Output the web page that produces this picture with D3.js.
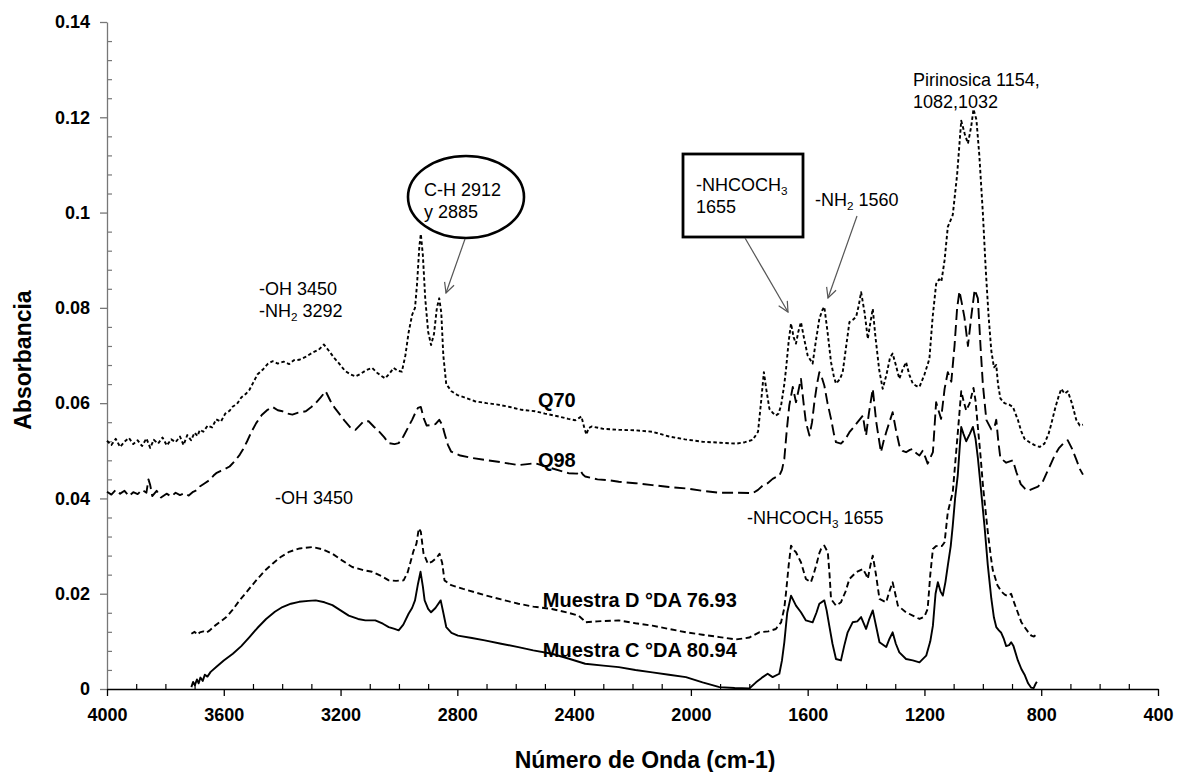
<!DOCTYPE html>
<html>
<head>
<meta charset="utf-8">
<script src="https://cdn.jsdelivr.net/npm/d3@7"></script>
<style>
  body { margin: 0; background: #fff; }
  svg { display: block; }
  text { font-family: "Liberation Sans", Arial, sans-serif; fill: #000; }
</style>
</head>
<body>
<svg id="chart" width="1179" height="772"></svg>
<script>
// ---- FTIR spectra: [wavenumber (cm-1), absorbance] ----
const q70 = [
  [4000,0.0521],[3985,0.0512],[3970,0.0525],[3955,0.0508],[3940,0.0519],[3925,0.0527],[3910,0.0514],[3895,0.0522],
  [3880,0.0510],[3865,0.0526],[3852,0.0506],[3840,0.0523],[3825,0.0515],[3810,0.0528],[3795,0.0511],[3780,0.0524],
  [3765,0.0518],[3750,0.0530],[3738,0.0512],[3725,0.0533],[3712,0.0522],[3700,0.0538],[3690,0.0531],[3682,0.0544],
  [3670,0.0540],[3655,0.0553],[3640,0.0549],[3626,0.0566],[3610,0.0561],[3595,0.0578],[3580,0.0584],[3569,0.0593],
  [3555,0.0598],[3540,0.0612],[3525,0.0619],[3512,0.0628],[3500,0.0642],[3485,0.0660],[3467,0.0670],[3450,0.0682],
  [3433,0.0688],[3415,0.0683],[3395,0.0687],[3376,0.0682],[3360,0.0690],[3342,0.0691],[3320,0.0697],[3296,0.0706],
  [3275,0.0712],[3257,0.0723],[3240,0.0710],[3222,0.0695],[3206,0.0684],[3185,0.0668],[3165,0.0660],[3149,0.0656],
  [3130,0.0662],[3110,0.0670],[3092,0.0674],[3075,0.0664],[3060,0.0657],[3047,0.0652],[3030,0.0664],[3018,0.0674],
  [3004,0.0668],[2990,0.0666],[2978,0.0700],[2967,0.0748],[2955,0.0785],[2945,0.0800],[2938,0.0850],[2930,0.0930],
  [2925,0.0955],[2918,0.0910],[2910,0.0820],[2900,0.0750],[2890,0.0722],[2880,0.0745],[2870,0.0800],[2862,0.0820],
  [2855,0.0790],[2848,0.0700],[2838,0.0640],[2820,0.0625],[2800,0.0617],[2776,0.0612],[2740,0.0604],[2700,0.0600],
  [2662,0.0597],[2620,0.0592],[2580,0.0586],[2534,0.0583],[2500,0.0578],[2453,0.0572],[2420,0.0567],[2396,0.0564],
  [2385,0.0568],[2375,0.0572],[2365,0.0548],[2358,0.0534],[2350,0.0548],[2339,0.0551],[2300,0.0546],[2247,0.0544],
  [2190,0.0543],[2132,0.0540],[2075,0.0530],[2020,0.0524],[1960,0.0519],[1900,0.0517],[1845,0.0515],[1815,0.0518],
  [1788,0.0523],[1770,0.0540],[1760,0.0600],[1750,0.0665],[1742,0.0630],[1731,0.0588],[1720,0.0580],[1709,0.0574],
  [1700,0.0578],[1691,0.0595],[1680,0.0640],[1674,0.0672],[1665,0.0730],[1657,0.0767],[1648,0.0738],[1640,0.0725],
  [1632,0.0750],[1623,0.0770],[1612,0.0735],[1600,0.0700],[1590,0.0690],[1583,0.0683],[1572,0.0730],[1560,0.0777],
  [1550,0.0795],[1543,0.0802],[1532,0.0750],[1520,0.0686],[1510,0.0655],[1503,0.0641],[1490,0.0650],[1480,0.0665],
  [1468,0.0720],[1457,0.0770],[1445,0.0775],[1434,0.0781],[1425,0.0805],[1417,0.0833],[1405,0.0790],[1394,0.0735],
  [1385,0.0770],[1377,0.0798],[1368,0.0740],[1355,0.0670],[1343,0.0630],[1330,0.0660],[1318,0.0695],[1309,0.0704],
  [1298,0.0680],[1286,0.0651],[1275,0.0670],[1263,0.0686],[1252,0.0660],[1240,0.0641],[1228,0.0636],[1217,0.0634],
  [1200,0.0660],[1183,0.0693],[1172,0.0780],[1160,0.0850],[1150,0.0860],[1142,0.0855],[1131,0.0900],[1120,0.0970],
  [1103,0.0995],[1088,0.1080],[1074,0.1193],[1062,0.1165],[1051,0.1145],[1040,0.1180],[1032,0.1217],[1022,0.1195],
  [1012,0.1120],[1000,0.1000],[990,0.0880],[980,0.0780],[971,0.0710],[962,0.0675],[954,0.0680],[948,0.0640],
  [940,0.0610],[926,0.0600],[910,0.0597],[897,0.0592],[880,0.0565],[868,0.0540],[857,0.0525],[840,0.0518],
  [823,0.0512],[805,0.0508],[789,0.0515],[775,0.0535],[766,0.0555],[752,0.0590],[740,0.0615],[731,0.0630],
  [720,0.0620],[709,0.0625],[695,0.0600],[680,0.0565],[668,0.0553],[657,0.0555]
];

const q98 = [
  [4000,0.0414],[3985,0.0408],[3970,0.0418],[3955,0.0410],[3940,0.0416],[3925,0.0405],[3910,0.0413],[3895,0.0409],
  [3880,0.0418],[3865,0.0412],[3858,0.0440],[3852,0.0428],[3845,0.0405],[3830,0.0416],[3815,0.0402],[3796,0.0410],
  [3780,0.0404],[3765,0.0412],[3750,0.0407],[3735,0.0411],[3720,0.0406],[3705,0.0414],[3690,0.0418],[3682,0.0425],
  [3665,0.0432],[3650,0.0438],[3635,0.0448],[3626,0.0453],[3610,0.0458],[3595,0.0462],[3580,0.0467],[3560,0.0480],
  [3545,0.0492],[3535,0.0502],[3520,0.0520],[3505,0.0540],[3489,0.0558],[3470,0.0575],[3450,0.0586],[3433,0.0592],
  [3415,0.0585],[3399,0.0583],[3382,0.0578],[3365,0.0576],[3345,0.0580],[3319,0.0583],[3300,0.0592],[3285,0.0600],
  [3268,0.0612],[3251,0.0625],[3235,0.0605],[3220,0.0590],[3206,0.0579],[3185,0.0562],[3165,0.0548],[3149,0.0544],
  [3135,0.0553],[3121,0.0562],[3104,0.0562],[3085,0.0550],[3069,0.0541],[3050,0.0528],[3035,0.0516],[3015,0.0514],
  [3001,0.0516],[2985,0.0530],[2967,0.0551],[2955,0.0565],[2945,0.0578],[2935,0.0590],[2925,0.0592],[2915,0.0568],
  [2905,0.0553],[2890,0.0554],[2875,0.0556],[2862,0.0565],[2852,0.0555],[2844,0.0537],[2832,0.0512],[2821,0.0498],
  [2790,0.0490],[2750,0.0485],[2706,0.0481],[2650,0.0476],[2591,0.0470],[2560,0.0472],[2534,0.0474],[2480,0.0464],
  [2419,0.0453],[2390,0.0452],[2378,0.0458],[2370,0.0450],[2362,0.0446],[2320,0.0440],[2280,0.0438],[2247,0.0435],
  [2190,0.0432],[2132,0.0428],[2075,0.0424],[2017,0.0421],[1960,0.0416],[1902,0.0412],[1840,0.0412],[1788,0.0411],
  [1770,0.0418],[1754,0.0427],[1737,0.0432],[1720,0.0441],[1708,0.0445],[1697,0.0448],[1688,0.0460],[1680,0.0483],
  [1672,0.0540],[1663,0.0595],[1651,0.0634],[1640,0.0602],[1632,0.0625],[1623,0.0651],[1614,0.0600],[1606,0.0560],
  [1594,0.0532],[1585,0.0560],[1577,0.0602],[1568,0.0640],[1560,0.0665],[1552,0.0655],[1543,0.0637],[1532,0.0600],
  [1520,0.0567],[1510,0.0535],[1503,0.0518],[1486,0.0515],[1470,0.0525],[1457,0.0539],[1442,0.0550],[1429,0.0560],
  [1411,0.0574],[1405,0.0550],[1400,0.0532],[1390,0.0580],[1377,0.0630],[1365,0.0560],[1349,0.0497],[1340,0.0520],
  [1331,0.0539],[1320,0.0560],[1309,0.0581],[1298,0.0545],[1286,0.0511],[1275,0.0500],[1263,0.0497],[1250,0.0502],
  [1240,0.0504],[1228,0.0495],[1217,0.0490],[1206,0.0500],[1196,0.0485],[1189,0.0473],[1180,0.0485],[1171,0.0497],
  [1160,0.0602],[1152,0.0585],[1143,0.0567],[1131,0.0630],[1120,0.0665],[1108,0.0645],[1097,0.0720],[1088,0.0800],
  [1080,0.0835],[1072,0.0810],[1063,0.0780],[1051,0.0720],[1040,0.0780],[1028,0.0838],[1017,0.0820],[1008,0.0720],
  [1000,0.0640],[988,0.0565],[971,0.0545],[960,0.0550],[954,0.0565],[947,0.0520],[940,0.0485],[920,0.0475],
  [897,0.0480],[885,0.0455],[870,0.0430],[855,0.0420],[846,0.0416],[830,0.0420],[811,0.0425],[795,0.0435],
  [780,0.0455],[765,0.0475],[754,0.0490],[740,0.0505],[725,0.0515],[709,0.0522],[695,0.0505],[680,0.0482],
  [668,0.0462],[657,0.0450]
];

const muestraD = [
  [3711,0.0116],[3700,0.0120],[3690,0.0114],[3682,0.0119],[3670,0.0121],[3660,0.0118],[3648,0.0123],[3630,0.0133],
  [3610,0.0142],[3591,0.0151],[3570,0.0166],[3546,0.0186],[3520,0.0205],[3489,0.0228],[3460,0.0248],[3433,0.0263],
  [3405,0.0277],[3376,0.0288],[3340,0.0295],[3296,0.0298],[3260,0.0293],[3228,0.0284],[3195,0.0270],[3160,0.0256],
  [3125,0.0250],[3092,0.0246],[3060,0.0237],[3035,0.0228],[3010,0.0227],[2984,0.0228],[2970,0.0245],[2962,0.0263],
  [2950,0.0290],[2940,0.0305],[2932,0.0337],[2925,0.0330],[2916,0.0285],[2901,0.0263],[2885,0.0268],[2870,0.0276],
  [2861,0.0284],[2852,0.0265],[2844,0.0228],[2821,0.0218],[2780,0.0210],[2740,0.0203],[2706,0.0197],[2650,0.0188],
  [2591,0.0179],[2540,0.0173],[2476,0.0168],[2420,0.0160],[2385,0.0154],[2370,0.0146],[2362,0.0140],[2320,0.0142],
  [2247,0.0144],[2190,0.0138],[2132,0.0133],[2075,0.0126],[2017,0.0119],[1960,0.0114],[1902,0.0109],[1845,0.0104],
  [1800,0.0108],[1766,0.0119],[1735,0.0121],[1709,0.0126],[1691,0.0140],[1680,0.0170],[1674,0.0203],[1665,0.0260],
  [1657,0.0301],[1648,0.0292],[1640,0.0287],[1623,0.0266],[1606,0.0231],[1589,0.0224],[1580,0.0240],[1571,0.0259],
  [1560,0.0285],[1554,0.0294],[1543,0.0301],[1531,0.0287],[1525,0.0240],[1520,0.0189],[1503,0.0175],[1486,0.0182],
  [1470,0.0205],[1457,0.0231],[1434,0.0245],[1411,0.0252],[1400,0.0240],[1394,0.0231],[1385,0.0260],[1377,0.0280],
  [1366,0.0240],[1354,0.0189],[1331,0.0182],[1320,0.0205],[1309,0.0224],[1300,0.0200],[1291,0.0175],[1263,0.0161],
  [1240,0.0154],[1217,0.0147],[1200,0.0152],[1189,0.0168],[1180,0.0240],[1171,0.0294],[1160,0.0300],[1149,0.0301],
  [1140,0.0300],[1131,0.0308],[1120,0.0371],[1103,0.0413],[1091,0.0500],[1080,0.0580],[1074,0.0625],[1065,0.0602],
  [1057,0.0585],[1045,0.0600],[1032,0.0632],[1025,0.0605],[1017,0.0550],[1008,0.0490],[1000,0.0430],[990,0.0370],
  [983,0.0330],[972,0.0275],[966,0.0250],[950,0.0218],[937,0.0205],[925,0.0198],[914,0.0195],[903,0.0200],
  [895,0.0185],[880,0.0160],[868,0.0140],[857,0.0130],[845,0.0120],[834,0.0112],[825,0.0110],[817,0.0114]
];

const muestraC = [
  [3711,0.0004],[3705,0.0015],[3699,0.0008],[3692,0.0020],[3686,0.0012],[3680,0.0024],[3672,0.0017],[3665,0.0030],
  [3656,0.0026],[3645,0.0036],[3626,0.0046],[3600,0.0060],[3569,0.0074],[3540,0.0090],[3512,0.0109],[3485,0.0128],
  [3455,0.0147],[3425,0.0162],[3399,0.0172],[3370,0.0179],[3342,0.0183],[3310,0.0185],[3285,0.0186],[3255,0.0182],
  [3228,0.0176],[3200,0.0165],[3172,0.0154],[3140,0.0147],[3115,0.0144],[3081,0.0144],[3055,0.0137],[3035,0.0130],
  [3015,0.0126],[3001,0.0123],[2985,0.0135],[2967,0.0158],[2955,0.0170],[2945,0.0186],[2935,0.0220],[2926,0.0246],
  [2918,0.0215],[2912,0.0186],[2900,0.0168],[2890,0.0161],[2875,0.0170],[2857,0.0186],[2848,0.0160],[2838,0.0130],
  [2820,0.0118],[2798,0.0112],[2750,0.0107],[2706,0.0102],[2650,0.0095],[2591,0.0088],[2540,0.0081],[2476,0.0074],
  [2420,0.0064],[2362,0.0053],[2300,0.0049],[2247,0.0046],[2190,0.0040],[2132,0.0035],[2075,0.0030],[2017,0.0025],
  [1960,0.0014],[1902,0.0004],[1850,0.0002],[1800,0.0001],[1777,0.0014],[1760,0.0022],[1754,0.0025],[1737,0.0032],
  [1720,0.0025],[1697,0.0032],[1688,0.0060],[1680,0.0098],[1670,0.0160],[1657,0.0196],[1640,0.0175],[1623,0.0161],
  [1606,0.0144],[1583,0.0140],[1570,0.0160],[1560,0.0179],[1543,0.0186],[1535,0.0165],[1526,0.0133],[1515,0.0095],
  [1503,0.0063],[1486,0.0060],[1475,0.0090],[1463,0.0119],[1446,0.0140],[1430,0.0142],[1417,0.0151],[1400,0.0126],
  [1390,0.0145],[1377,0.0165],[1365,0.0130],[1354,0.0098],[1331,0.0088],[1320,0.0105],[1309,0.0119],[1298,0.0095],
  [1286,0.0077],[1263,0.0063],[1240,0.0060],[1217,0.0056],[1194,0.0070],[1180,0.0100],[1171,0.0133],[1162,0.0200],
  [1154,0.0224],[1145,0.0205],[1137,0.0196],[1128,0.0225],[1120,0.0259],[1110,0.0300],[1103,0.0343],[1095,0.0400],
  [1086,0.0448],[1080,0.0500],[1074,0.0550],[1066,0.0535],[1057,0.0520],[1045,0.0535],[1034,0.0550],[1025,0.0525],
  [1017,0.0485],[1005,0.0410],[994,0.0340],[983,0.0260],[971,0.0190],[962,0.0150],[954,0.0130],[945,0.0123],
  [937,0.0118],[928,0.0105],[920,0.0090],[910,0.0092],[903,0.0098],[895,0.0090],[880,0.0060],[868,0.0042],
  [857,0.0030],[845,0.0012],[835,0.0003],[826,0.0002],[820,0.0010],[815,0.0015]
];

// ---- axis ticks ----
const xTickValues = [4000, 3600, 3200, 2800, 2400, 2000, 1600, 1200, 800, 400];
const yTickValues = [0, 0.02, 0.04, 0.06, 0.08, 0.1, 0.12, 0.14];
const yTickLabels = ["0", "0.02", "0.04", "0.06", "0.08", "0.1", "0.12", "0.14"];

const seriesNames = ["Q70", "Q98", "Muestra D °DA 76.93", "Muestra C °DA 80.94"];

// ---- layout ----
const svg = d3.select("#chart");
const x = d3.scaleLinear().domain([4000, 400]).range([107, 1158]);
const y = d3.scaleLinear().domain([0, 0.14]).range([689, 22]);

const xMinor = d3.range(4000, 399, -100).filter(v => v % 400 !== 0);
const yMinor = d3.range(0, 36).filter(i => i % 5 !== 0).map(i => i * 0.004);

// y axis: major ticks outward, minor ticks inward
const yAxisG = svg.append("g").attr("transform", "translate(107,0)")
  .call(d3.axisLeft(y).tickValues(yTickValues).tickSize(7).tickSizeOuter(0).tickPadding(10)
    .tickFormat((d, i) => yTickLabels[i]));
yAxisG.select(".domain").attr("stroke", "#777").attr("stroke-width", 1.3);
yAxisG.selectAll(".tick line").attr("stroke", "#777").attr("stroke-width", 1.3);
yAxisG.selectAll(".tick text").style("font-family", "'Liberation Sans', Arial, sans-serif")
  .style("font-weight", "bold").style("font-size", "18px").attr("fill", "#000");

const yMinorG = svg.append("g").attr("transform", "translate(107,0)")
  .call(d3.axisLeft(y).tickValues(yMinor).tickSize(-5).tickFormat(""));
yMinorG.select(".domain").remove();
yMinorG.selectAll(".tick line").attr("stroke", "#777").attr("stroke-width", 1.2);

// x axis: major ticks outward, minor ticks inward
const xAxisG = svg.append("g").attr("transform", "translate(0,689)")
  .call(d3.axisBottom(x).tickValues(xTickValues).tickSize(7).tickSizeOuter(0).tickPadding(12)
    .tickFormat(d3.format("d")));
xAxisG.select(".domain").attr("stroke", "#000").attr("stroke-width", 1.3);
xAxisG.selectAll(".tick line").attr("stroke", "#000").attr("stroke-width", 1.3);
xAxisG.selectAll(".tick text").style("font-family", "'Liberation Sans', Arial, sans-serif")
  .style("font-weight", "bold").style("font-size", "18px").attr("fill", "#000");

const xMinorG = svg.append("g").attr("transform", "translate(0,689)")
  .call(d3.axisBottom(x).tickValues(xMinor).tickSize(-5).tickFormat(""));
xMinorG.select(".domain").remove();
xMinorG.selectAll(".tick line").attr("stroke", "#000").attr("stroke-width", 1.2);

// axis titles
svg.append("text").attr("x", 645).attr("y", 768).attr("text-anchor", "middle")
  .style("font-weight", "bold").style("font-size", "23px").text("Número de Onda (cm-1)");
svg.append("text").attr("transform", "translate(31,360) rotate(-90)").attr("text-anchor", "middle")
  .style("font-weight", "bold").style("font-size", "23px").text("Absorbancia");

// ---- spectra ----
const line = d3.line().x(d => x(d[0])).y(d => y(d[1]));
const spectra = [
  { data: q70, dash: "3.5,2.5" },
  { data: q98, dash: "11,5" },
  { data: muestraD, dash: "6,3.5" },
  { data: muestraC, dash: null }
];
svg.append("g").selectAll("path").data(spectra).join("path")
  .attr("d", d => line(d.data))
  .attr("fill", "none")
  .attr("stroke", "#000")
  .attr("stroke-width", 1.9)
  .attr("stroke-linejoin", "round")
  .attr("stroke-dasharray", d => d.dash);

// series labels
const seriesLabelPos = [[2524, 0.0592], [2524, 0.0465], [2507, 0.0172], [2507, 0.0067]];
svg.append("g").selectAll("text").data(seriesNames).join("text")
  .attr("x", (d, i) => x(seriesLabelPos[i][0]))
  .attr("y", (d, i) => y(seriesLabelPos[i][1]))
  .style("font-weight", "bold").style("font-size", "20px")
  .text(d => d);

// ---- band annotations ----
const ann = svg.append("g");
// parts: plain strings, or { subscript: "2" } for a lowered small digit
function label(px, py, parts, size) {
  const t = ann.append("text").attr("x", px).attr("y", py).style("font-size", (size || 18) + "px");
  let lowered = false;
  parts.forEach(p => {
    if (typeof p === "object") {
      t.append("tspan").attr("dy", 4).style("font-size", "0.65em").text(p.subscript);
      lowered = true;
    } else {
      t.append("tspan").attr("dy", lowered ? -4 : null).text(p);
      lowered = false;
    }
  });
  return t;
}

svg.append("defs").append("marker")
  .attr("id", "arrowHead").attr("viewBox", "0 0 12 12").attr("refX", 11).attr("refY", 6)
  .attr("markerWidth", 12).attr("markerHeight", 12).attr("markerUnits", "userSpaceOnUse")
  .attr("orient", "auto")
  .append("path").attr("d", "M1,1 L11,6 L1,11").attr("fill", "none").attr("stroke", "#555").attr("stroke-width", 1.2);

function arrow(x1, y1, x2, y2) {
  ann.append("line").attr("x1", x1).attr("y1", y1).attr("x2", x2).attr("y2", y2)
    .attr("stroke", "#555").attr("stroke-width", 1.2).attr("marker-end", "url(#arrowHead)");
}

// O-H / N-H stretch
label(259, 295, ["-OH 3450"]);
label(259, 317, ["-NH", { subscript: "2" }, " 3292"]);

// C-H stretch (ellipse)
ann.append("ellipse").attr("cx", 466).attr("cy", 197).attr("rx", 58).attr("ry", 41)
  .attr("fill", "#fff").attr("stroke", "#000").attr("stroke-width", 2.6);
label(424, 196, ["C-H 2912"]);
label(424, 218, ["y 2885"]);
arrow(465, 239, 446, 293);

// amide band (box)
ann.append("rect").attr("x", 683).attr("y", 154).attr("width", 120).attr("height", 83)
  .attr("fill", "#fff").attr("stroke", "#000").attr("stroke-width", 2.8);
label(696, 191, ["-NHCOCH", { subscript: "3" }]);
label(696, 213, ["1655"]);
arrow(745, 238, 788, 312);

// N-H bending
label(815, 206, ["-NH", { subscript: "2" }, " 1560"]);
arrow(857, 216, 828, 298);

// pyranose ring
label(913, 86, ["Pirinosica 1154,"]);
label(913, 108, ["1082,1032"]);

// lower spectra annotations
label(275, 504, ["-OH 3450"]);
label(747, 524, ["-NHCOCH", { subscript: "3" }, " 1655"]);
</script>
</body>
</html>
